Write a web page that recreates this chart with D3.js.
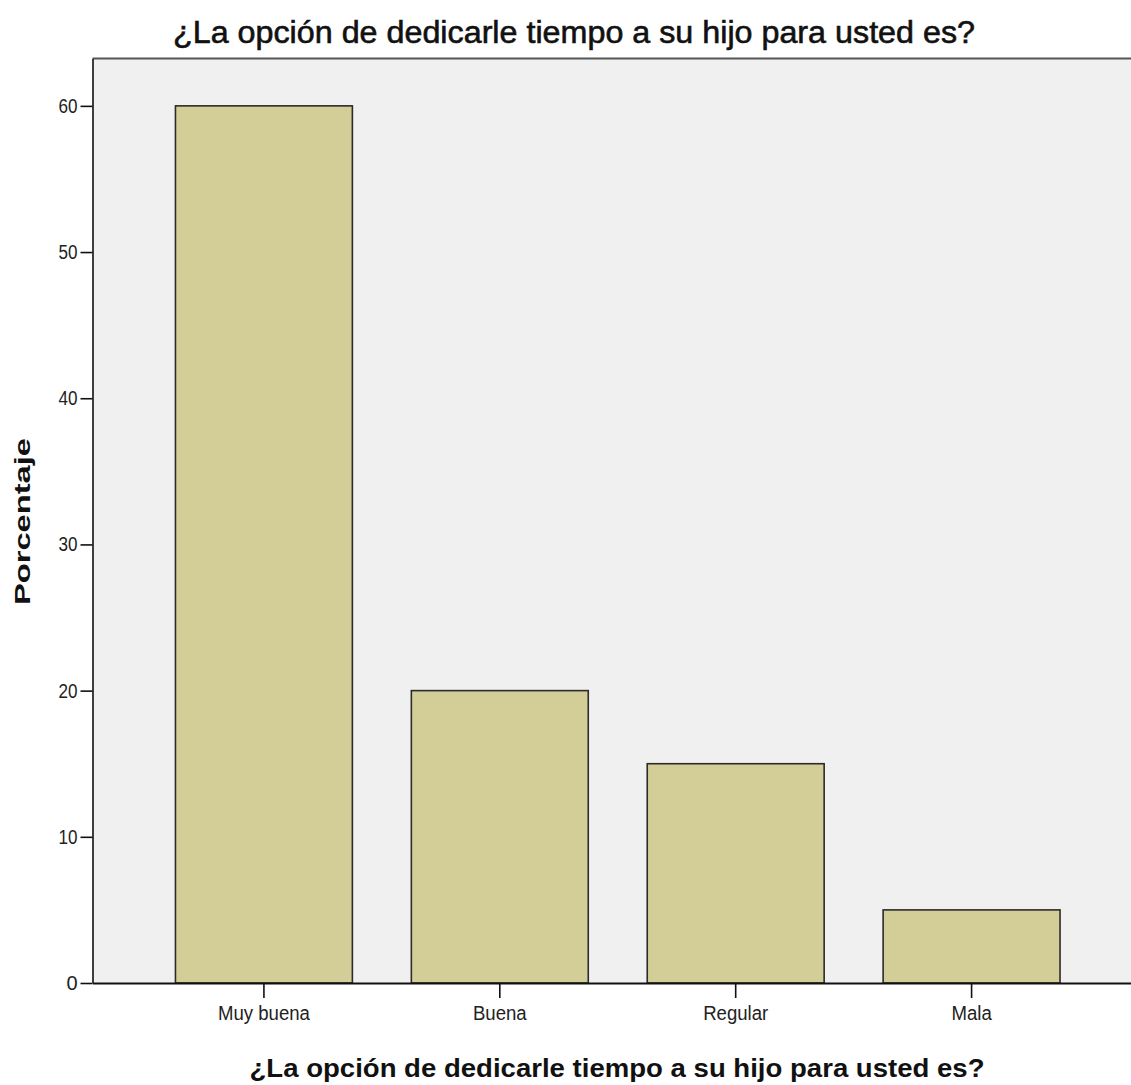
<!DOCTYPE html>
<html><head><meta charset="utf-8">
<script src="https://cdn.jsdelivr.net/npm/d3@7"></script>
<style>body{margin:0;background:#fff}svg{display:block}</style>
</head><body>
<svg id="chart" width="1131" height="1085"></svg>
<script>
const categories = ["Muy buena", "Buena", "Regular", "Mala"];
const values = [60, 20, 15, 5];
const yTicks = [0, 10, 20, 30, 40, 50, 60];
const titleText = "¿La opción de dedicarle tiempo a su hijo para usted es?";
const xTitleText = "¿La opción de dedicarle tiempo a su hijo para usted es?";
const yTitleText = "Porcentaje";

const svg = d3.select("#chart");
const plot = {left: 92.5, top: 58.5, bottom: 983, right: 1143};
const font = "'Liberation Sans', Arial, sans-serif";

const x = d3.scaleBand().domain(categories)
  .range([plot.left, plot.right]).paddingInner(0.25).paddingOuter(0.3517);
const y = d3.scaleLinear().domain([0, 63.24]).range([plot.bottom, plot.top]);

svg.append("rect").attr("x", plot.left).attr("y", plot.top)
  .attr("width", plot.right - plot.left).attr("height", plot.bottom - plot.top)
  .attr("fill", "#f0f0f0");
svg.append("line").attr("x1", plot.left).attr("x2", 1131)
  .attr("y1", plot.top).attr("y2", plot.top)
  .attr("stroke", "#555").attr("stroke-width", 2);

svg.selectAll("rect.bar").data(values).join("rect").attr("class", "bar")
  .attr("x", (d, i) => x(categories[i]))
  .attr("y", d => y(d))
  .attr("width", x.bandwidth())
  .attr("height", d => y(0) - y(d))
  .attr("fill", "#d3ce97").attr("stroke", "#2b2b2b").attr("stroke-width", 1.6);

const yAxis = svg.append("g").attr("transform", `translate(${plot.left},0)`)
  .call(d3.axisLeft(y).tickValues(yTicks).tickSize(12).tickPadding(3).tickSizeOuter(0));
yAxis.select(".domain").attr("stroke", "#111").attr("stroke-width", 1.6);
yAxis.selectAll(".tick line").attr("stroke", "#111").attr("stroke-width", 1.6);
yAxis.selectAll(".tick text").attr("font-family", font).attr("font-size", 20).attr("fill", "#222")
  .attr("textLength", 19).attr("lengthAdjust", "spacingAndGlyphs")
  .filter(d => d === 0).attr("textLength", null);

const xAxis = svg.append("g").attr("transform", `translate(0,${plot.bottom})`)
  .call(d3.axisBottom(x).tickSize(15).tickPadding(8).tickSizeOuter(0));
xAxis.select(".domain").attr("stroke", "#111").attr("stroke-width", 1.8);
xAxis.selectAll(".tick line").attr("stroke", "#111").attr("stroke-width", 1.6);
xAxis.selectAll(".tick text").attr("font-family", font).attr("font-size", 20).attr("fill", "#222")
  .attr("transform", "scale(0.92,1)")
  .attr("x", 0);
// scale labels horizontally around their tick
xAxis.selectAll(".tick text").attr("transform", null)
  .attr("textLength", function() { return this.getComputedTextLength() * 0.93; })
  .attr("lengthAdjust", "spacingAndGlyphs");

svg.append("text").attr("x", 574).attr("y", 43).attr("text-anchor", "middle")
  .attr("font-family", font).attr("font-size", 31).attr("fill", "#111")
  .attr("stroke", "#111").attr("stroke-width", 0.6)
  .attr("textLength", 802).attr("lengthAdjust", "spacingAndGlyphs")
  .text(titleText);

svg.append("text").attr("x", 617).attr("y", 1077).attr("text-anchor", "middle")
  .attr("font-family", font).attr("font-size", 26).attr("font-weight", "bold").attr("fill", "#111")
  .attr("textLength", 735).attr("lengthAdjust", "spacingAndGlyphs")
  .text(xTitleText);

svg.append("text").attr("transform", "translate(30,521.5) rotate(-90)")
  .attr("text-anchor", "middle")
  .attr("font-family", font).attr("font-size", 22).attr("font-weight", "bold").attr("fill", "#111")
  .attr("textLength", 167).attr("lengthAdjust", "spacingAndGlyphs")
  .text(yTitleText);
</script>
</body></html>
